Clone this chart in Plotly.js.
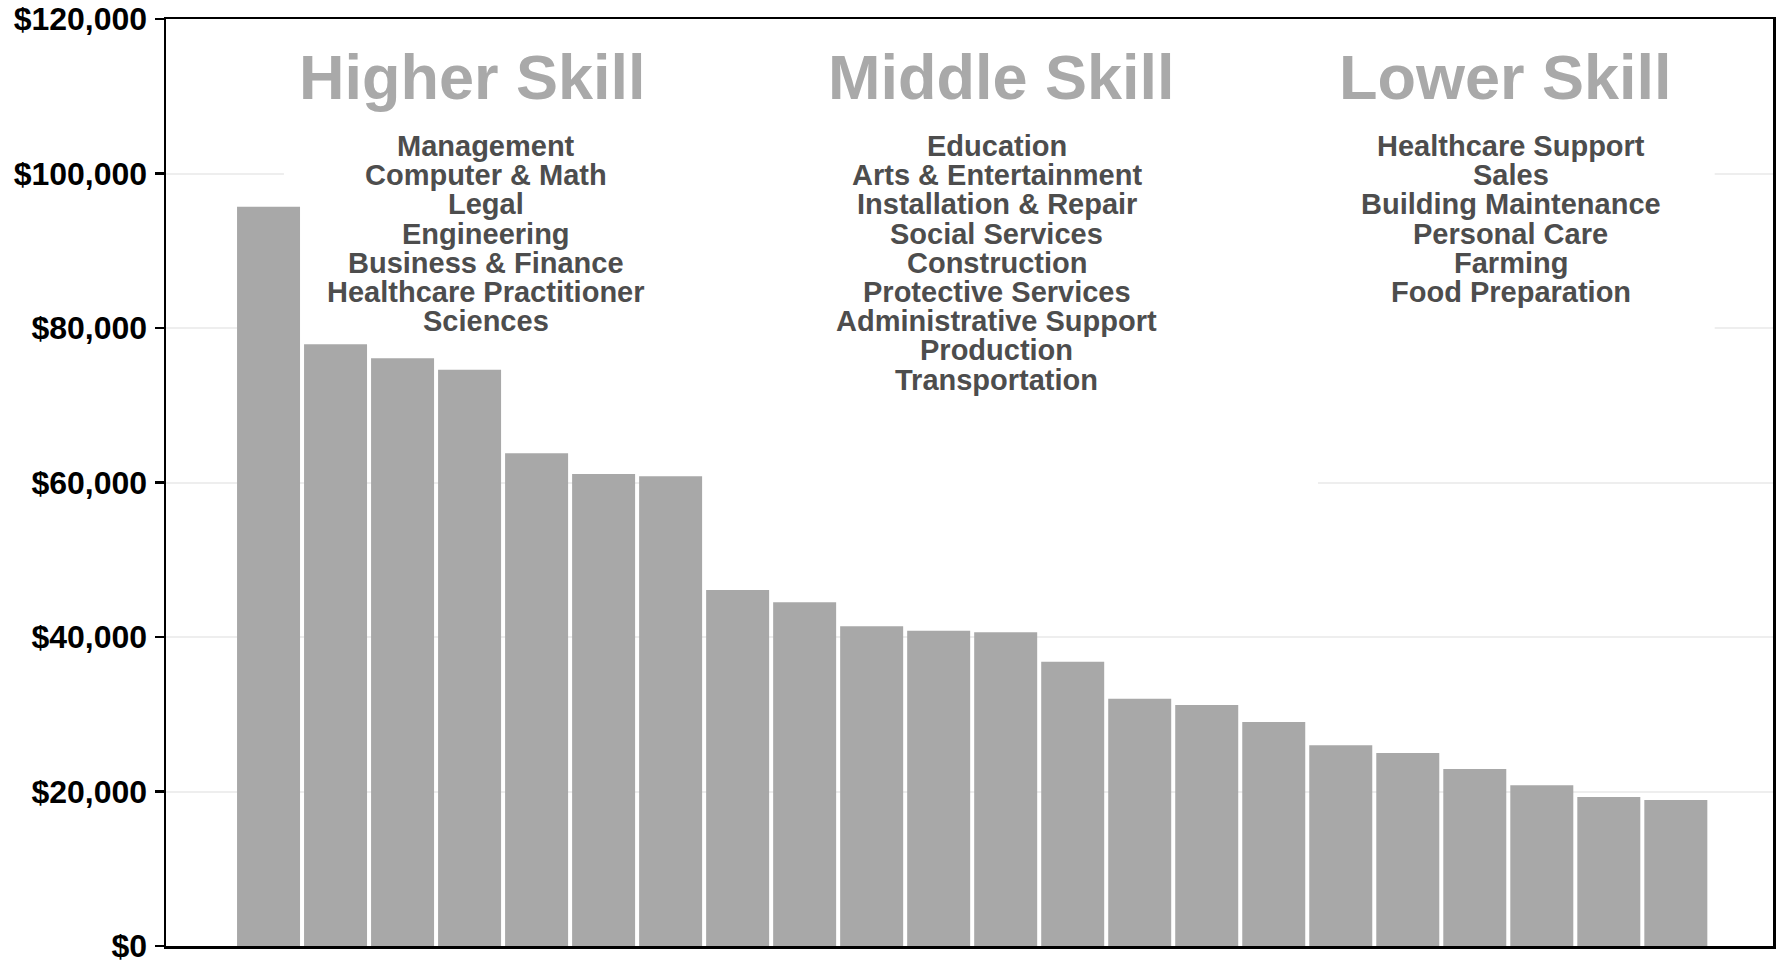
<!DOCTYPE html>
<html>
<head>
<meta charset="utf-8">
<script src="https://cdn.plot.ly/plotly-3.0.1.min.js"></script>
<style>html,body{margin:0;padding:0;background:#fff;}#chart{width:1781px;height:963px;}</style>
</head>
<body>
<div id="chart"></div>
<script>
// ---- data ----
const occupations = [
  "Management","Computer & Math","Legal","Engineering","Business & Finance","Healthcare Practitioner","Sciences",
  "Education","Arts & Entertainment","Installation & Repair","Social Services","Construction","Protective Services","Administrative Support","Production","Transportation",
  "Healthcare Support","Sales","Building Maintenance","Personal Care","Farming","Food Preparation"
];
const wages = [
  95700, 77900, 76100, 74600, 63800, 61100, 60800,
  46100, 44500, 41400, 40800, 40600, 36800, 32000, 31200, 29000,
  26000, 25000, 22900, 20800, 19300, 18900
];
const skillGroup = [
  "Higher Skill","Higher Skill","Higher Skill","Higher Skill","Higher Skill","Higher Skill","Higher Skill",
  "Middle Skill","Middle Skill","Middle Skill","Middle Skill","Middle Skill","Middle Skill","Middle Skill","Middle Skill","Middle Skill",
  "Lower Skill","Lower Skill","Lower Skill","Lower Skill","Lower Skill","Lower Skill"
];
const skillLevels = ["Higher Skill","Middle Skill","Lower Skill"];
const yTicks = [0, 20000, 40000, 60000, 80000, 100000, 120000];

// ---- layout helpers ----
const W = 1781, H = 963;
const M = {l:166, r:8, t:19, b:17};
const plotH = H - M.t - M.b;
const pyToPaper = py => (H - M.b - py) / plotH;
const FONT = '"Liberation Sans", Arial, Helvetica, sans-serif';

const annotations = [];
const titleOffset = {"Higher Skill": 0.05, "Middle Skill": -0.07, "Lower Skill": -0.04};
const listOffset  = {"Higher Skill": 0.25, "Middle Skill": -0.13, "Lower Skill": 0.04};
skillLevels.forEach(g => {
  const idx = occupations.map((o,i)=>i).filter(i => skillGroup[i] === g);
  const center = (idx[0] + idx[idx.length-1]) / 2;
  annotations.push({
    xref:'x', yref:'paper', x: center + titleOffset[g], y: pyToPaper(77),
    xanchor:'center', yanchor:'middle', showarrow:false, text: g,
    font:{family:FONT, size:63, color:'#a9a9a9', weight:'bold'}
  });
  idx.forEach((i,k) => {
    annotations.push({
      xref:'x', yref:'paper', x: center + listOffset[g], y: pyToPaper(146 + 29.2*k),
      xanchor:'center', yanchor:'middle', showarrow:false, text: occupations[i],
      font:{family:FONT, size:29, color:'#4d4d4d', weight:'bold'}
    });
  });
});

const shapes = [
  {type:'rect', layer:'between', xref:'x', yref:'y', x0:0.23, x1:21.58, y0:70000, y1:120000,
   fillcolor:'#ffffff', line:{width:0}},
  {type:'rect', layer:'between', xref:'x', yref:'y', x0:6.1, x1:15.66, y0:55000, y1:70000,
   fillcolor:'#ffffff', line:{width:0}}
];

const trace = {
  type:'bar', x: occupations, y: wages,
  marker:{color:'#a8a8a8', line:{width:0}},
  hoverinfo:'x+y'
};

const layout = {
  width: W, height: H,
  margin: M,
  paper_bgcolor:'#ffffff', plot_bgcolor:'#ffffff',
  showlegend:false,
  bargap: 0.06,
  font:{family:FONT},
  xaxis:{
    type:'category', range:[-1.53, 22.45],
    showticklabels:false, ticks:'', showgrid:false, zeroline:false,
    showline:true, linecolor:'#000000', linewidth:2.5, mirror:true
  },
  yaxis:{
    range:[0,120000], tickvals: yTicks, tickformat:'$,.0f',
    ticks:'outside', ticklen:9, tickwidth:2.5, tickcolor:'#000000',
    showgrid:true, gridcolor:'#eeeeee', gridwidth:2, zeroline:false,
    showline:true, linecolor:'#000000', linewidth:2.5, mirror:true,
    tickfont:{family:FONT, size:32, color:'#000000', weight:'bold'},
    ticklabelstandoff: 1,
    ticklabeloverflow: 'allow'
  },
  annotations: annotations,
  shapes: shapes
};

Plotly.newPlot('chart', [trace], layout, {displayModeBar:false, staticPlot:true});
</script>
</body>
</html>
